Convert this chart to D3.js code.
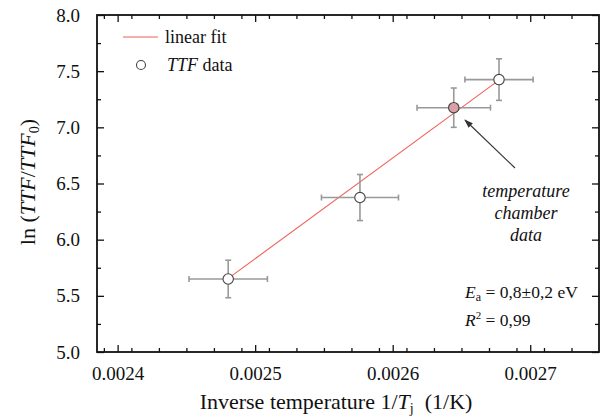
<!DOCTYPE html>
<html>
<head>
<meta charset="utf-8">
<script src="https://cdn.jsdelivr.net/npm/d3@7"></script>
<style>
  body { margin: 0; background: #fff; }
  text { font-family: "Liberation Serif", "DejaVu Serif", serif; fill: #111; }
</style>
</head>
<body>
<div id="chart"></div>
<script>
// data
const invT = [0.0024804, 0.0025762, 0.0026444, 0.0026773];
const lnTTF = [5.65, 6.375, 7.175, 7.425];
const xErr = [0.0000285, 0.000028, 0.0000267, 0.0000248];
const yErr = [0.167, 0.205, 0.175, 0.185];
const isChamber = [false, false, true, false];
const fitX = [0.0024804, 0.0026773];
const fitY = [5.655, 7.42];
const xTicks = [0.0024, 0.0025, 0.0026, 0.0027];
const yTicks = [5.0, 5.5, 6.0, 6.5, 7.0, 7.5, 8.0];

let margin = {top: 15, right: 3, bottom: 64, left: 97};
let width = 602 - margin.left - margin.right;
let height = 416 - margin.top - margin.bottom;

let svg = d3.select("#chart").append("svg")
    .attr("width", 602)
    .attr("height", 416)
    .append("g")
    .attr("transform", "translate(" + margin.left + "," + margin.top + ")");

let x = d3.scaleLinear().domain([0.002385, 0.00275]).range([0, width]);
let y = d3.scaleLinear().domain([5, 8]).range([height, 0]);

let xMinor = d3.range(0.00239, 0.00275, 0.00002).map(d => +d.toFixed(5))
    .filter(d => !xTicks.some(t => Math.abs(t - d) < 1e-9));
let yMinor = d3.range(5.25, 8, 0.5);

// minor ticks (inward, all sides)
function ticks(axisFn, scale, vals, size, tr) {
    svg.append("g")
        .attr("transform", tr)
        .call(axisFn(scale).tickValues(vals).tickSizeInner(-size).tickSizeOuter(0).tickFormat(""))
        .call(g => g.select(".domain").remove())
        .selectAll("line").attr("stroke", "#111").attr("stroke-width", 1.3);
}
ticks(d3.axisBottom, x, xMinor, 4, `translate(0,${height})`);
ticks(d3.axisTop, x, xMinor, 4, "translate(0,0)");
ticks(d3.axisLeft, y, yMinor, 4, "translate(0,0)");
ticks(d3.axisRight, y, yMinor, 4, `translate(${width},0)`);
ticks(d3.axisTop, x, xTicks, 7, "translate(0,0)");
ticks(d3.axisRight, y, yTicks, 7, `translate(${width},0)`);

let xAxis = svg.append("g")
    .attr("transform", `translate(0,${height})`)
    .call(d3.axisBottom(x).tickValues(xTicks).tickSizeInner(-7).tickSizeOuter(0)
        .tickPadding(14.5).tickFormat(d3.format(".4f")));
let yAxis = svg.append("g")
    .call(d3.axisLeft(y).tickValues(yTicks).tickSizeInner(-7).tickSizeOuter(0)
        .tickPadding(17).tickFormat(d3.format(".1f")));
[xAxis, yAxis].forEach(a => {
    a.select(".domain").remove();
    a.selectAll("line").attr("stroke", "#111").attr("stroke-width", 1.3);
    a.selectAll("text").style("font-size", "19px").attr("fill", "#111")
        .style("font-family", "Liberation Serif");
});

// frame
svg.append("rect")
    .attr("width", width).attr("height", height)
    .attr("fill", "none").attr("stroke", "#111").attr("stroke-width", 1.8);

// fit line
svg.append("line")
    .attr("x1", x(fitX[0])).attr("y1", y(fitY[0]))
    .attr("x2", x(fitX[1])).attr("y2", y(fitY[1]))
    .attr("stroke", "#f0605a").attr("stroke-width", 1.1);

let pts = invT.map((d, i) => ({x: d, y: lnTTF[i], ex: xErr[i], ey: yErr[i], ch: isChamber[i]}));

let err = svg.append("g").attr("stroke", "#999").attr("stroke-width", 1.6);
pts.forEach(d => {
    let cx = x(d.x), cy = y(d.y);
    let x0 = x(d.x - d.ex), x1 = x(d.x + d.ex);
    let y0 = y(d.y - d.ey), y1 = y(d.y + d.ey);
    err.append("line").attr("x1", x0).attr("x2", x1).attr("y1", cy).attr("y2", cy);
    err.append("line").attr("x1", cx).attr("x2", cx).attr("y1", y0).attr("y2", y1);
    [x0, x1].forEach(v => err.append("line").attr("x1", v).attr("x2", v).attr("y1", cy - 3).attr("y2", cy + 3));
    [y0, y1].forEach(v => err.append("line").attr("y1", v).attr("y2", v).attr("x1", cx - 3).attr("x2", cx + 3));
});

svg.selectAll(".pt")
    .data(pts)
    .enter().append("circle")
    .attr("class", "pt")
    .attr("cx", d => x(d.x))
    .attr("cy", d => y(d.y))
    .attr("r", 5.2)
    .attr("fill", d => d.ch ? "#d9a1a6" : "#fff")
    .attr("stroke", "#444")
    .attr("stroke-width", 1.1);

// legend
let leg = svg.append("g").attr("transform", "translate(26,22)");
leg.append("line").attr("x1", 0).attr("x2", 35).attr("y1", 0).attr("y2", 0)
    .attr("stroke", "#f0605a").attr("stroke-width", 1.1);
leg.append("text").attr("x", 42).attr("y", 6).style("font-size", "18px").text("linear fit");
leg.append("circle").attr("cx", 18).attr("cy", 28).attr("r", 4.5)
    .attr("fill", "#fff").attr("stroke", "#444").attr("stroke-width", 1.1);
let lt = leg.append("text").attr("x", 44).attr("y", 34).style("font-size", "18px");
lt.append("tspan").style("font-style", "italic").text("TTF");
lt.append("tspan").text(" data");

// annotation
let ann = svg.append("g");
let defs = svg.append("defs");
defs.append("marker").attr("id", "arr").attr("viewBox", "0 0 10 10")
    .attr("refX", 9).attr("refY", 5).attr("markerWidth", 8).attr("markerHeight", 8)
    .attr("orient", "auto")
    .append("path").attr("d", "M0,1.5 L10,5 L0,8.5 Z").attr("fill", "#333");
ann.append("line")
    .attr("x1", 515 - margin.left).attr("y1", 168 - margin.top)
    .attr("x2", 465 - margin.left).attr("y2", 120 - margin.top)
    .attr("stroke", "#333").attr("stroke-width", 1.1).attr("marker-end", "url(#arr)");
["temperature", "chamber", "data"].forEach((t, i) => {
    ann.append("text").attr("x", 526 - margin.left).attr("y", 197 - margin.top + i * 22)
        .attr("text-anchor", "middle").style("font-style", "italic").style("font-size", "18px").text(t);
});

let ea = svg.append("text").attr("x", 465 - margin.left).attr("y", 298 - margin.top).style("font-size", "17.5px");
ea.append("tspan").style("font-style", "italic").text("E");
ea.append("tspan").attr("dy", 3).style("font-size", "12px").text("a");
ea.append("tspan").attr("dy", -3).text(" = 0,8±0,2 eV");
let r2 = svg.append("text").attr("x", 465 - margin.left).attr("y", 326 - margin.top).style("font-size", "17.5px");
r2.append("tspan").style("font-style", "italic").text("R");
r2.append("tspan").attr("dy", -7).style("font-size", "11px").text("2");
r2.append("tspan").attr("dy", 7).text(" = 0,99");

// axis titles
let xl = svg.append("text").attr("x", 336 - margin.left).attr("y", 409 - margin.top)
    .attr("text-anchor", "middle").style("font-size", "22px");
xl.append("tspan").text("Inverse temperature 1/");
xl.append("tspan").style("font-style", "italic").text("T");
xl.append("tspan").attr("dy", 4).style("font-size", "14px").text("j");
xl.append("tspan").attr("dy", -4).text("\u2002(1/K)");

let yl = svg.append("text")
    .attr("transform", `translate(${35 - margin.left},${182 - margin.top}) rotate(-90)`)
    .attr("text-anchor", "middle").style("font-size", "22px");
yl.append("tspan").text("ln (");
yl.append("tspan").style("font-style", "italic").text("TTF");
yl.append("tspan").text("/");
yl.append("tspan").style("font-style", "italic").text("TTF");
yl.append("tspan").attr("dy", 4).style("font-size", "14px").text("0");
yl.append("tspan").attr("dy", -4).text(")");
</script>
</body>
</html>
